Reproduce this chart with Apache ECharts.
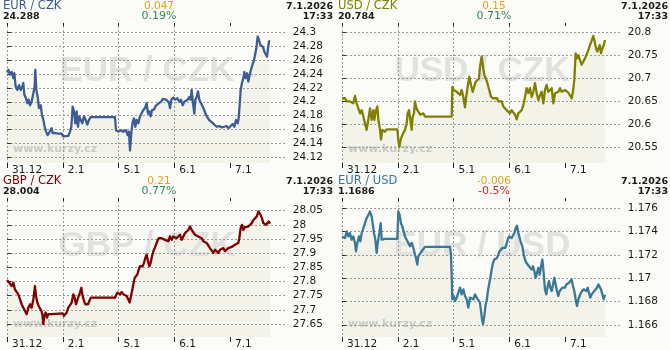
<!DOCTYPE html>
<html><head><meta charset="utf-8">
<script src="https://cdn.jsdelivr.net/npm/echarts@6.0.0/dist/echarts.min.js"></script>
<style>html,body{margin:0;padding:0;background:#fbfbf7}#c{width:670px;height:350px}</style>
</head><body><div id="c"></div>
<script>
// ---- data ----
const dayTicks = [0, 1, 2, 3, 4];
const dayLabels = ['31.12', '2.1', '5.1', '6.1', '7.1'];
const pairNames = ['EUR / CZK', 'USD / CZK', 'GBP / CZK', 'EUR / USD'];
const lastValues = ['24.288', '20.784', '28.004', '1.1686'];
const changes = ['0.047', '0.15', '0.21', '-0.006'];
const changePcts = ['0.19%', '0.71%', '0.77%', '-0.5%'];
const dateText = '7.1.2026';
const timeText = '17:33';
const yTickSteps = [0.02, 0.05, 0.05, 0.002];

// time in trading days from 31.12 00:00, value
const eurCzk = [[0,24.242],[0.024,24.246],[0.054,24.239],[0.084,24.243],[0.114,24.234],[0.132,24.241],[0.155,24.222],[0.185,24.217],[0.215,24.224],[0.245,24.217],[0.275,24.222],[0.293,24.227],[0.311,24.210],[0.341,24.205],[0.365,24.198],[0.389,24.203],[0.413,24.195],[0.442,24.200],[0.472,24.199],[0.496,24.222],[0.508,24.246],[0.526,24.217],[0.550,24.207],[0.574,24.191],[0.604,24.195],[0.628,24.181],[0.652,24.174],[0.676,24.164],[0.700,24.157],[0.729,24.152],[0.759,24.156],[0.801,24.162],[0.819,24.155],[0.861,24.155],[0.921,24.154],[0.981,24.154],[1.010,24.150],[1.040,24.152],[1.100,24.151],[1.130,24.157],[1.154,24.164],[1.178,24.193],[1.202,24.186],[1.226,24.169],[1.250,24.186],[1.273,24.164],[1.297,24.179],[1.321,24.174],[1.351,24.169],[1.381,24.179],[1.411,24.174],[1.441,24.167],[1.471,24.174],[1.501,24.178],[1.937,24.178],[1.955,24.159],[1.997,24.157],[2.039,24.159],[2.087,24.157],[2.135,24.159],[2.164,24.152],[2.188,24.157],[2.206,24.130],[2.230,24.155],[2.254,24.171],[2.278,24.176],[2.302,24.164],[2.326,24.174],[2.356,24.169],[2.386,24.179],[2.416,24.181],[2.445,24.188],[2.475,24.191],[2.505,24.198],[2.529,24.183],[2.553,24.186],[2.577,24.179],[2.601,24.188],[2.637,24.189],[2.667,24.194],[2.697,24.192],[2.726,24.198],[2.762,24.200],[2.792,24.204],[2.822,24.205],[2.852,24.203],[2.882,24.204],[2.906,24.199],[2.924,24.191],[2.948,24.203],[2.984,24.206],[3.019,24.203],[3.055,24.205],[3.091,24.200],[3.121,24.203],[3.151,24.195],[3.181,24.200],[3.211,24.198],[3.241,24.203],[3.271,24.207],[3.294,24.203],[3.312,24.217],[3.336,24.198],[3.360,24.183],[3.378,24.203],[3.402,24.207],[3.426,24.215],[3.450,24.203],[3.474,24.205],[3.498,24.195],[3.522,24.191],[3.546,24.193],[3.570,24.181],[3.594,24.179],[3.623,24.174],[3.653,24.175],[3.683,24.170],[3.719,24.167],[3.761,24.164],[3.809,24.165],[3.851,24.163],[3.892,24.164],[3.940,24.165],[3.976,24.162],[4.012,24.165],[4.048,24.168],[4.078,24.164],[4.108,24.174],[4.138,24.169],[4.155,24.176],[4.173,24.195],[4.191,24.217],[4.215,24.227],[4.239,24.234],[4.257,24.243],[4.281,24.234],[4.305,24.241],[4.329,24.229],[4.353,24.239],[4.377,24.246],[4.401,24.253],[4.424,24.258],[4.448,24.267],[4.472,24.277],[4.496,24.294],[4.520,24.289],[4.544,24.282],[4.568,24.284],[4.592,24.279],[4.616,24.272],[4.640,24.274],[4.664,24.265],[4.682,24.277],[4.700,24.287],[4.718,24.288]];

const usdCzk = [[0,20.657],[0.024,20.653],[0.054,20.657],[0.084,20.650],[0.114,20.653],[0.143,20.650],[0.173,20.650],[0.203,20.646],[0.233,20.662],[0.263,20.646],[0.293,20.635],[0.323,20.624],[0.353,20.631],[0.383,20.617],[0.413,20.602],[0.442,20.588],[0.472,20.610],[0.502,20.635],[0.532,20.610],[0.562,20.631],[0.580,20.610],[0.604,20.628],[0.634,20.639],[0.652,20.610],[0.682,20.588],[0.700,20.567],[0.723,20.588],[0.741,20.591],[0.771,20.584],[0.801,20.589],[0.831,20.589],[0.993,20.589],[1.010,20.566],[1.028,20.551],[1.052,20.566],[1.070,20.573],[1.100,20.581],[1.130,20.588],[1.160,20.602],[1.178,20.624],[1.202,20.631],[1.226,20.610],[1.250,20.588],[1.268,20.617],[1.291,20.624],[1.309,20.650],[1.327,20.639],[1.351,20.631],[1.381,20.633],[1.405,20.621],[1.429,20.617],[1.459,20.624],[1.489,20.617],[1.967,20.617],[1.979,20.682],[2.003,20.675],[2.027,20.679],[2.057,20.671],[2.087,20.668],[2.117,20.664],[2.146,20.675],[2.176,20.660],[2.206,20.637],[2.224,20.657],[2.254,20.682],[2.284,20.704],[2.314,20.686],[2.344,20.671],[2.374,20.675],[2.398,20.693],[2.427,20.697],[2.457,20.700],[2.475,20.726],[2.505,20.748],[2.529,20.726],[2.553,20.708],[2.577,20.711],[2.601,20.693],[2.625,20.682],[2.649,20.671],[2.673,20.660],[2.709,20.657],[2.744,20.653],[2.780,20.657],[2.804,20.650],[2.834,20.646],[2.864,20.650],[2.894,20.639],[2.924,20.635],[2.954,20.631],[2.984,20.633],[3.013,20.624],[3.043,20.631],[3.073,20.628],[3.103,20.621],[3.133,20.611],[3.163,20.624],[3.193,20.621],[3.223,20.631],[3.253,20.642],[3.283,20.660],[3.312,20.679],[3.342,20.668],[3.372,20.679],[3.402,20.660],[3.432,20.671],[3.462,20.690],[3.492,20.668],[3.522,20.653],[3.552,20.664],[3.581,20.671],[3.611,20.646],[3.641,20.675],[3.671,20.686],[3.701,20.671],[3.731,20.668],[3.761,20.679],[3.791,20.646],[3.821,20.668],[3.851,20.664],[3.880,20.671],[3.910,20.679],[3.940,20.671],[3.970,20.668],[4.000,20.675],[4.060,20.669],[4.090,20.671],[4.120,20.657],[4.143,20.671],[4.167,20.697],[4.191,20.755],[4.215,20.744],[4.239,20.751],[4.269,20.740],[4.299,20.730],[4.329,20.737],[4.359,20.744],[4.389,20.748],[4.419,20.762],[4.448,20.773],[4.478,20.777],[4.508,20.793],[4.532,20.780],[4.556,20.766],[4.580,20.759],[4.598,20.755],[4.622,20.773],[4.646,20.755],[4.670,20.766],[4.694,20.773],[4.718,20.784]];

const gbpCzk = [[0,27.805],[0.024,27.807],[0.054,27.793],[0.084,27.784],[0.114,27.796],[0.143,27.772],[0.173,27.767],[0.203,27.755],[0.233,27.749],[0.263,27.720],[0.293,27.708],[0.323,27.714],[0.353,27.685],[0.383,27.708],[0.413,27.720],[0.442,27.708],[0.472,27.737],[0.502,27.784],[0.520,27.749],[0.544,27.726],[0.568,27.714],[0.592,27.708],[0.616,27.697],[0.634,27.685],[0.652,27.650],[0.670,27.679],[0.694,27.691],[0.718,27.673],[0.741,27.685],[0.771,27.689],[0.801,27.685],[0.831,27.688],[0.999,27.688],[1.022,27.679],[1.046,27.681],[1.070,27.691],[1.100,27.708],[1.130,27.714],[1.160,27.726],[1.190,27.755],[1.214,27.743],[1.238,27.720],[1.262,27.714],[1.286,27.749],[1.309,27.761],[1.333,27.778],[1.357,27.749],[1.381,27.732],[1.405,27.720],[1.429,27.714],[1.453,27.720],[1.477,27.726],[1.501,27.743],[1.937,27.743],[1.955,27.737],[1.979,27.761],[2.003,27.767],[2.027,27.755],[2.057,27.763],[2.087,27.755],[2.117,27.761],[2.146,27.749],[2.176,27.737],[2.200,27.726],[2.224,27.749],[2.248,27.772],[2.266,27.790],[2.290,27.813],[2.314,27.819],[2.338,27.825],[2.362,27.842],[2.386,27.854],[2.410,27.860],[2.433,27.854],[2.457,27.866],[2.481,27.883],[2.505,27.895],[2.529,27.872],[2.553,27.854],[2.577,27.866],[2.601,27.889],[2.625,27.907],[2.649,27.918],[2.673,27.930],[2.697,27.942],[2.720,27.953],[2.744,27.959],[2.774,27.953],[2.804,27.959],[2.834,27.947],[2.864,27.953],[2.894,27.942],[2.924,27.959],[2.954,27.947],[2.984,27.959],[3.013,27.965],[3.043,27.953],[3.073,27.959],[3.103,27.965],[3.133,27.947],[3.163,27.959],[3.193,27.971],[3.223,27.965],[3.253,27.982],[3.283,27.994],[3.312,27.982],[3.342,27.977],[3.372,27.965],[3.402,27.971],[3.432,27.959],[3.462,27.965],[3.492,27.953],[3.522,27.942],[3.552,27.947],[3.581,27.936],[3.611,27.930],[3.641,27.918],[3.671,27.912],[3.701,27.901],[3.731,27.912],[3.761,27.907],[3.791,27.901],[3.821,27.912],[3.851,27.907],[3.880,27.918],[3.910,27.907],[3.940,27.912],[3.970,27.918],[4.000,27.915],[4.030,27.922],[4.060,27.918],[4.090,27.930],[4.120,27.924],[4.149,27.936],[4.167,27.953],[4.191,27.988],[4.215,28.000],[4.239,27.982],[4.269,27.992],[4.299,27.988],[4.329,27.994],[4.359,28.000],[4.389,28.006],[4.419,28.017],[4.448,28.023],[4.478,28.029],[4.508,28.047],[4.526,28.043],[4.550,28.035],[4.574,28.023],[4.598,28.006],[4.622,28.012],[4.646,28.000],[4.670,27.996],[4.694,28.012],[4.718,28.004]];

const eurUsd = [[0,1.17359],[0.024,1.17373],[0.054,1.17345],[0.084,1.17402],[0.114,1.17359],[0.143,1.17388],[0.173,1.17331],[0.203,1.17359],[0.233,1.17303],[0.251,1.17232],[0.275,1.17303],[0.305,1.17359],[0.329,1.17317],[0.353,1.17388],[0.383,1.17430],[0.413,1.17473],[0.442,1.17515],[0.472,1.17543],[0.502,1.17572],[0.532,1.17529],[0.550,1.17473],[0.574,1.17388],[0.598,1.17331],[0.622,1.17218],[0.640,1.17303],[0.670,1.17388],[0.694,1.17473],[0.712,1.17331],[0.741,1.17345],[0.771,1.17337],[0.993,1.17337],[1.010,1.17572],[1.034,1.17543],[1.058,1.17473],[1.082,1.17444],[1.106,1.17402],[1.130,1.17359],[1.160,1.17331],[1.190,1.17303],[1.220,1.17274],[1.250,1.17303],[1.280,1.17260],[1.309,1.17203],[1.327,1.17175],[1.351,1.17118],[1.369,1.17189],[1.399,1.17203],[1.429,1.17232],[1.459,1.17246],[1.489,1.17269],[1.937,1.17269],[1.955,1.17203],[1.979,1.16821],[2.003,1.16849],[2.027,1.16807],[2.057,1.16835],[2.087,1.16878],[2.117,1.16920],[2.146,1.16863],[2.176,1.16906],[2.206,1.16849],[2.236,1.16821],[2.266,1.16750],[2.296,1.16835],[2.326,1.16849],[2.356,1.16821],[2.386,1.16863],[2.416,1.16835],[2.445,1.16821],[2.475,1.16793],[2.493,1.16722],[2.511,1.16651],[2.529,1.16608],[2.553,1.16679],[2.577,1.16778],[2.595,1.16807],[2.613,1.16878],[2.637,1.16948],[2.661,1.17005],[2.684,1.17076],[2.709,1.17133],[2.732,1.17161],[2.756,1.17147],[2.780,1.17175],[2.804,1.17203],[2.828,1.17232],[2.852,1.17246],[2.876,1.17260],[2.900,1.17274],[2.924,1.17260],[2.948,1.17288],[2.972,1.17331],[2.996,1.17359],[3.019,1.17373],[3.043,1.17345],[3.067,1.17359],[3.091,1.17388],[3.115,1.17430],[3.139,1.17450],[3.163,1.17388],[3.187,1.17345],[3.211,1.17303],[3.235,1.17274],[3.259,1.17203],[3.283,1.17161],[3.306,1.17133],[3.330,1.17147],[3.354,1.17104],[3.378,1.17118],[3.402,1.17076],[3.426,1.17104],[3.450,1.17062],[3.474,1.17005],[3.498,1.17048],[3.522,1.17090],[3.546,1.17033],[3.570,1.17104],[3.594,1.17161],[3.617,1.17048],[3.641,1.16906],[3.665,1.16863],[3.689,1.16934],[3.713,1.16977],[3.737,1.16920],[3.761,1.16892],[3.785,1.16948],[3.809,1.17005],[3.833,1.16948],[3.857,1.16892],[3.880,1.16849],[3.904,1.16892],[3.928,1.16906],[3.952,1.16920],[3.976,1.16934],[4.000,1.16920],[4.024,1.16948],[4.048,1.16934],[4.072,1.16963],[4.096,1.16977],[4.120,1.16991],[4.143,1.16934],[4.167,1.16892],[4.191,1.16821],[4.215,1.16764],[4.239,1.16821],[4.263,1.16849],[4.287,1.16878],[4.311,1.16863],[4.335,1.16906],[4.359,1.16912],[4.383,1.16892],[4.407,1.16920],[4.430,1.16878],[4.454,1.16835],[4.478,1.16863],[4.502,1.16849],[4.526,1.16892],[4.550,1.16906],[4.574,1.16920],[4.598,1.16948],[4.622,1.16934],[4.646,1.16906],[4.670,1.16920],[4.694,1.16821],[4.718,1.16860]];

const seriesData = [eurCzk, usdCzk, gbpCzk, eurUsd];
const yMins = [24.1118, 20.5157, 27.6045, 1.16498];
const yMaxs = [24.3091, 20.8146, 28.0840, 1.17662];

// ---- styles / layout ----
const lineColors = ['#3d5c94', '#808000', '#800000', '#3a7898'];
const pctColors = ['#2e8b57', '#2e8b57', '#2e8b57', '#c42a2a'];
const origins = [[0, 0], [335, 0], [0, 175], [335, 175]];
const FONT = '"DejaVu Sans", Verdana, sans-serif';

const grids = [], xAxes = [], yAxes = [], series = [], graphics = [];
origins.forEach(([ox, oy], i) => {
  grids.push({left: ox + 7, top: oy + 26, width: 278.75, height: 137});
  xAxes.push({
    type: 'value', gridIndex: i, min: 0, max: 5, interval: 1, position: 'bottom', z: 3,
    axisLine: {show: false},
    axisTick: {show: true, length: 5, customValues: dayTicks, lineStyle: {color: '#222', width: 1}},
    splitLine: {show: true, showMaxLine: false, lineStyle: {color: '#9a9a9a', type: [2, 2], width: 1}},
    axisLabel: {customValues: dayTicks, formatter: v => dayLabels[Math.round(v)] || '', align: 'left',
      padding: [0, 0, 0, 5], margin: 2, color: '#1a1a1a', fontSize: 10.5, fontFamily: FONT}
  });
  xAxes.push({
    type: 'value', gridIndex: i, min: 0, max: 5, interval: 1, position: 'top', z: 3,
    axisLine: {show: false},
    axisTick: {show: true, length: 3, customValues: dayTicks, lineStyle: {color: '#222', width: 1}},
    splitLine: {show: false}, axisLabel: {show: false}
  });
  yAxes.push({
    type: 'value', gridIndex: i, position: 'right', min: yMins[i], max: yMaxs[i], z: 3,
    minInterval: yTickSteps[i], maxInterval: yTickSteps[i],
    axisLine: {show: false},
    axisTick: {show: true, length: 4, lineStyle: {color: '#333'}},
    splitLine: {show: true, showMinLine: false, showMaxLine: false, lineStyle: {color: '#9a9a9a', type: [2, 2], width: 1}},
    axisLabel: {showMinLabel: false, showMaxLabel: false, margin: 7, color: '#1a1a1a', fontSize: 10.5, fontFamily: FONT}
  });
  series.push({
    type: 'line', xAxisIndex: i * 2, yAxisIndex: i, data: seriesData[i], z: 1,
    symbol: 'none', silent: true, lineStyle: {width: 0, opacity: 0},
    areaStyle: {color: '#f3f3ea', opacity: 1, origin: 'start'}
  });
  series.push({
    type: 'line', xAxisIndex: i * 2, yAxisIndex: i, data: seriesData[i], z: 5,
    symbol: 'none', silent: true, lineStyle: {width: 2.3, color: lineColors[i], join: 'round'}
  });
  // watermarks
  graphics.push({type: 'text', x: ox + 147, y: oy + 71, z: 2, silent: true,
    style: {text: pairNames[i], font: 'bold 35px "Liberation Sans", Arial, sans-serif', fill: '#e1e1df', textAlign: 'center', textVerticalAlign: 'middle'}});
  graphics.push({type: 'text', x: ox + 13, y: oy + 149, z: 2, silent: true,
    style: {text: 'www.kurzy.cz', font: 'bold 11px ' + FONT, fill: '#c9c9c6', textAlign: 'left', textVerticalAlign: 'middle'}});
  // header
  const t = (x, y, text, font, fill, align) => graphics.push({type: 'text', x, y, z: 10, silent: true,
    style: {text, font, fill, textAlign: align, textVerticalAlign: 'middle'}});
  t(ox + 3, oy + 6.5, pairNames[i], '11.5px ' + FONT, lineColors[i], 'left');
  t(ox + 3, oy + 16.5, lastValues[i], 'bold 9.5px ' + FONT, '#1a1a1a', 'left');
  t(ox + 159, oy + 6.5, changes[i], '10.5px ' + FONT, '#e0a41c', 'center');
  t(ox + 159, oy + 16.5, changePcts[i], '11px ' + FONT, pctColors[i], 'center');
  t(ox + 333, oy + 6.5, dateText, 'bold 9.5px ' + FONT, '#1a1a1a', 'right');
  t(ox + 333, oy + 16.5, timeText, 'bold 9.5px ' + FONT, '#1a1a1a', 'right');
});

const chart = echarts.init(document.getElementById('c'), null, {renderer: 'canvas'});
chart.setOption({
  backgroundColor: '#fbfbf7',
  animation: false,
  grid: grids, xAxis: xAxes, yAxis: yAxes, series: series,
  graphic: {elements: graphics}
});
</script></body></html>
